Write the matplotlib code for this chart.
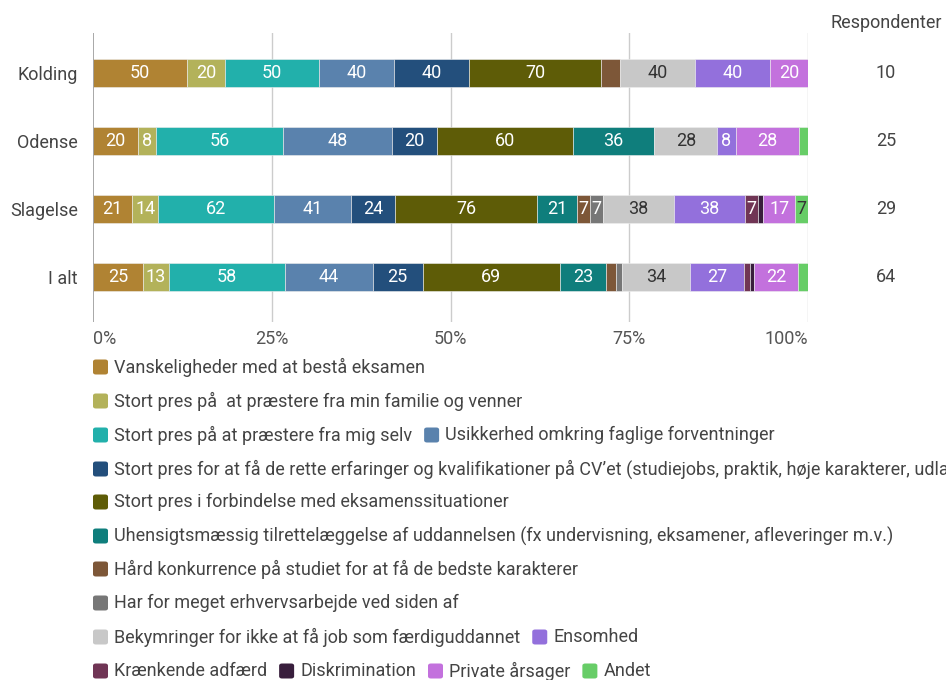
import matplotlib
matplotlib.use("Agg")
import matplotlib.pyplot as plt
import matplotlib.patches as patches
import numpy as np

plt.rcParams['font.family'] = ['Roboto', 'DejaVu Sans']

# Data (procent af respondenter, normaliseret pr. række)
rows = ['Kolding', 'Odense', 'Slagelse', 'I alt']
respondenter = [10, 25, 29, 64]

categories = [
    'Vanskeligheder med at bestå eksamen',
    'Stort pres på  at præstere fra min familie og venner',
    'Stort pres på at præstere fra mig selv',
    'Usikkerhed omkring faglige forventninger',
    'Stort pres for at få de rette erfaringer og kvalifikationer på CV\u2019et (studiejobs, praktik, høje karakterer, udlandsophold m.v.)',
    'Stort pres i forbindelse med eksamenssituationer',
    'Uhensigtsmæssig tilrettelæggelse af uddannelsen (fx undervisning, eksamener, afleveringer m.v.)',
    'Hård konkurrence på studiet for at få de bedste karakterer',
    'Har for meget erhvervsarbejde ved siden af',
    'Bekymringer for ikke at få job som færdiguddannet',
    'Ensomhed',
    'Krænkende adfærd',
    'Diskrimination',
    'Private årsager',
    'Andet',
]

kolding = [50, 20, 50, 40, 40, 70, 0, 10, 0, 40, 40, 0, 0, 20, 0]
odense = [20, 8, 56, 48, 20, 60, 36, 0, 0, 28, 8, 0, 0, 28, 4]
slagelse = [21, 14, 62, 41, 24, 76, 21, 7, 7, 38, 38, 7, 3, 17, 7]
i_alt = [25, 13, 58, 44, 25, 69, 23, 5, 3, 34, 27, 3, 2, 22, 5]

colors = ['#b08333', '#b3b25a', '#22b0ab', '#5a82ad', '#234f7c', '#5e5c07',
          '#0f7e7c', '#7d5738', '#777777', '#c8c8c8', '#9370dc', '#703555',
          '#381e3c', '#c371dd', '#67cd67']
dark_text = {'#c8c8c8', '#67cd67'}

data = np.array([kolding, odense, slagelse, i_alt], dtype=float)

W, H = 946, 680
fig = plt.figure(figsize=(W / 100, H / 100), dpi=100)
x0, x1, y0, y1 = 93, 808, 33, 322
ax = fig.add_axes([x0 / W, 1 - y1 / H, (x1 - x0) / W, (y1 - y0) / H])

ypos = np.arange(len(rows))
bar_h = 0.41
px_per_pct = (x1 - x0) / 100.0
fs = 13

for r in range(len(rows)):
    total = data[r].sum()
    left = 0.0
    for c in range(len(categories)):
        v = data[r, c]
        if v <= 0:
            continue
        pct = v / total * 100
        ax.barh(ypos[r], pct, left=left, height=bar_h, color=colors[c],
                edgecolor='#eeeeee', linewidth=0.4, zorder=3)
        lbl = f'{int(v)}'
        # only label segments wide enough for the number
        if pct * px_per_pct >= len(lbl) * 10 + 2:
            tc = '#333333' if colors[c] in dark_text else 'white'
            ax.text(left + pct / 2, ypos[r], lbl, ha='center', va='center',
                    color=tc, fontsize=fs, zorder=4)
        left += pct

ax.set_xlim(0, 100)
ax.set_ylim(3.66, -0.59)
ax.set_yticks(ypos)
ax.set_yticklabels(rows, fontsize=fs, color='#444444')
ax.set_xticks([0, 25, 50, 75, 100])
ax.set_xticklabels(['0%', '25%', '50%', '75%', '100%'], fontsize=fs, color='#555555')
ax.tick_params(axis='both', length=0)
ax.tick_params(axis='x', pad=6)
ax.tick_params(axis='y', pad=11)
xt = ax.get_xticklabels()
xt[0].set_ha('left')
xt[-1].set_ha('right')
for s in ax.spines.values():
    s.set_visible(False)
for t in [25, 50, 75, 100]:
    ax.axvline(t, color='#cccccc', lw=1, zorder=1)
ax.axvline(0, color='#999999', lw=1.2, zorder=5)

# Respondenter kolonne
fig.text(942 / W, 1 - 23 / H, 'Respondenter', ha='right', va='center',
         fontsize=fs, color='#444444')
for r in range(len(rows)):
    fig.text(886 / W, 1 - (73 + 68 * r) / H, str(respondenter[r]),
             ha='center', va='center', fontsize=fs, color='#444444')

# Legende
legend_rows = [[0], [1], [2, 3], [4], [5], [6], [7], [8], [9, 10], [11, 12, 13, 14]]
row_y = [367, 401, 435, 469, 502, 536, 569, 603, 637, 671]
fig.canvas.draw()
renderer = fig.canvas.get_renderer()
box = 15
for items, yy in zip(legend_rows, row_y):
    xx = 93
    for c in items:
        fig.patches.append(patches.FancyBboxPatch(
            (xx / W, 1 - (yy + box / 2) / H), box / W, box / H,
            boxstyle='round,pad=0,rounding_size=0.003', transform=fig.transFigure,
            facecolor=colors[c], edgecolor='none'))
        t = fig.text((xx + box + 6) / W, 1 - yy / H, categories[c], ha='left',
                     va='center', fontsize=fs, color='#444444')
        bb = t.get_window_extent(renderer)
        xx = bb.x1 + 12

fig.savefig('out.png', dpi=100)
